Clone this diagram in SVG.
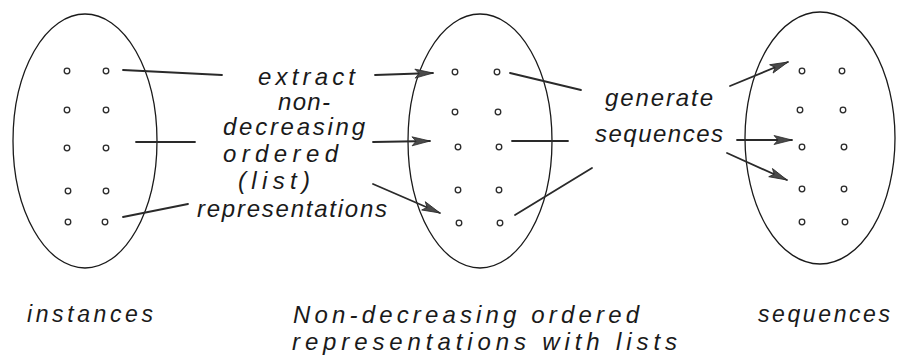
<svg xmlns="http://www.w3.org/2000/svg" width="904" height="358" viewBox="0 0 904 358">
  <style>
    .set { fill: none; stroke: #1a1a1a; stroke-width: 1.3; }
    .dot { fill: none; stroke: #2a2a2a; stroke-width: 1.3; }
    .link { fill: none; stroke: #2a2a2a; stroke-width: 1.8; stroke-linecap: round; }
    .label { font-family: "Liberation Sans", Arial, sans-serif; font-style: italic; fill: #1a1a1a; }
    .mid { font-size: 24px; }
    .cap { font-size: 23px; }
    .cap2 { font-size: 24px; }
  </style>
  <defs>
    <marker id="head" markerUnits="userSpaceOnUse" markerWidth="22" markerHeight="12" viewBox="-1 -6 22 12" refX="18" refY="0" orient="auto">
      <path d="M0,-4.5 L18,0 L0,4.5 L4,0 Z" fill="#4a4a4a" stroke="#2a2a2a" stroke-width="0.8"/>
    </marker>
  </defs>

  <rect width="904" height="358" fill="#ffffff"/>

  <!-- set of instances -->
  <g id="instances">
    <ellipse class="set" cx="85" cy="141" rx="72" ry="127"/>
    <circle class="dot" cx="67" cy="71" r="2.8"/><circle class="dot" cx="106" cy="71" r="2.8"/>
    <circle class="dot" cx="67" cy="110" r="2.8"/><circle class="dot" cx="106" cy="110" r="2.8"/>
    <circle class="dot" cx="67" cy="148" r="2.8"/><circle class="dot" cx="106" cy="148" r="2.8"/>
    <circle class="dot" cx="68" cy="191" r="2.8"/><circle class="dot" cx="106" cy="191" r="2.8"/>
    <circle class="dot" cx="68" cy="222" r="2.8"/><circle class="dot" cx="105" cy="222" r="2.8"/>
    <text class="label cap" x="27" y="322" textLength="126" lengthAdjust="spacing">instances</text>
  </g>

  <!-- set of non-decreasing ordered representations -->
  <g id="ordered-representations">
    <ellipse class="set" cx="480" cy="141" rx="72" ry="127"/>
    <circle class="dot" cx="455" cy="72" r="2.8"/><circle class="dot" cx="497" cy="72" r="2.8"/>
    <circle class="dot" cx="455" cy="112" r="2.8"/><circle class="dot" cx="498" cy="112" r="2.8"/>
    <circle class="dot" cx="458" cy="147" r="2.8"/><circle class="dot" cx="499" cy="147" r="2.8"/>
    <circle class="dot" cx="458" cy="190" r="2.8"/><circle class="dot" cx="499" cy="190" r="2.8"/>
    <circle class="dot" cx="459" cy="223" r="2.8"/><circle class="dot" cx="500" cy="223" r="2.8"/>
    <text class="label cap2" x="293" y="323" textLength="346" lengthAdjust="spacing">Non-decreasing ordered</text>
    <text class="label cap2" x="292" y="350" textLength="385" lengthAdjust="spacing">representations with lists</text>
  </g>

  <!-- set of sequences -->
  <g id="sequences">
    <ellipse class="set" cx="820" cy="138" rx="75" ry="126"/>
    <circle class="dot" cx="802" cy="71" r="2.8"/><circle class="dot" cx="842" cy="71" r="2.8"/>
    <circle class="dot" cx="800" cy="110" r="2.8"/><circle class="dot" cx="843" cy="110" r="2.8"/>
    <circle class="dot" cx="802" cy="147" r="2.8"/><circle class="dot" cx="844" cy="147" r="2.8"/>
    <circle class="dot" cx="802" cy="189" r="2.8"/><circle class="dot" cx="844" cy="189" r="2.8"/>
    <circle class="dot" cx="802" cy="222" r="2.8"/><circle class="dot" cx="845" cy="222" r="2.8"/>
    <text class="label cap" x="758" y="322" textLength="132" lengthAdjust="spacing">sequences</text>
  </g>

  <!-- mapping: extract representations -->
  <g id="extract-label">
    <text class="label mid" x="258" y="85" textLength="97" lengthAdjust="spacing">extract</text>
    <text class="label mid" x="278" y="110" textLength="52" lengthAdjust="spacing">non-</text>
    <text class="label mid" x="223" y="135" textLength="142" lengthAdjust="spacing">decreasing</text>
    <text class="label mid" x="223" y="162" textLength="115" lengthAdjust="spacing">ordered</text>
    <text class="label mid" x="238" y="189" textLength="72" lengthAdjust="spacing">(list)</text>
    <text class="label mid" x="197" y="217" textLength="190" lengthAdjust="spacing">representations</text>
  </g>

  <!-- mapping: generate sequences -->
  <g id="generate-label">
    <text class="label mid" x="605" y="106" textLength="108" lengthAdjust="spacing">generate</text>
    <text class="label mid" x="595" y="142" textLength="128" lengthAdjust="spacing">sequences</text>
  </g>

  <g id="connectors">
    <line class="link" x1="123" y1="70" x2="222" y2="75"/>
    <line class="link" x1="136" y1="142" x2="195" y2="142"/>
    <line class="link" x1="123" y1="217" x2="188" y2="204"/>
    <line class="link" x1="375" y1="75" x2="433" y2="73" marker-end="url(#head)"/>
    <line class="link" x1="373" y1="142" x2="430" y2="141" marker-end="url(#head)"/>
    <line class="link" x1="373" y1="184" x2="440" y2="213" marker-end="url(#head)"/>
    <line class="link" x1="510" y1="73" x2="581" y2="90"/>
    <line class="link" x1="512" y1="141" x2="568" y2="141"/>
    <line class="link" x1="515" y1="215" x2="592" y2="168"/>
    <line class="link" x1="730" y1="86" x2="788" y2="62" marker-end="url(#head)"/>
    <line class="link" x1="737" y1="140" x2="792" y2="140" marker-end="url(#head)"/>
    <line class="link" x1="727" y1="153" x2="787" y2="180" marker-end="url(#head)"/>
  </g>
</svg>
